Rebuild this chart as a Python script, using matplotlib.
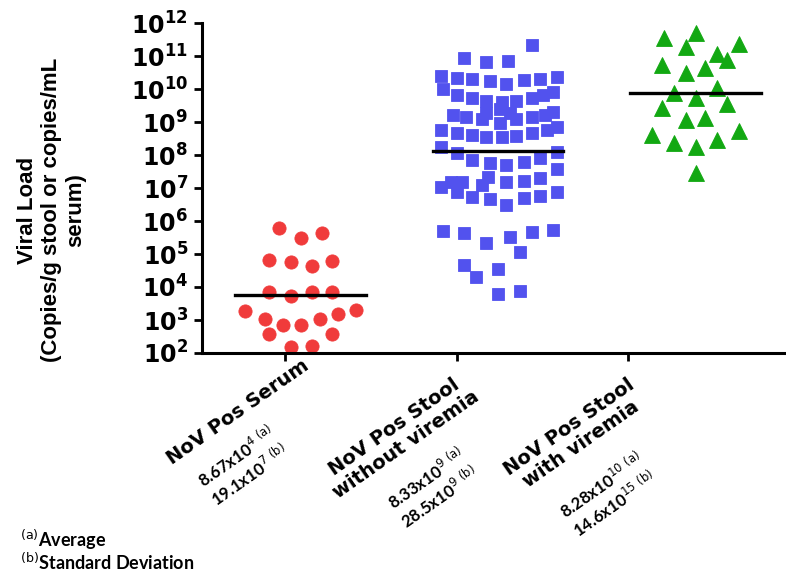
import numpy as np
import matplotlib
matplotlib.use("Agg")
import matplotlib.pyplot as plt
from matplotlib.ticker import LogLocator, NullFormatter

plt.rcParams['mathtext.fontset'] = 'dejavusans'

# ---- data (log10 of viral load) ----
serum_dx = [-0.11, 0.00, 0.11, -0.16, -0.05, 0.06, 0.16, -0.16, -0.05, 0.06, 0.16,
            -0.28, -0.18, -0.09, 0.00, 0.10, 0.19, 0.28, -0.16, 0.16, -0.05, 0.06]
serum_log = [5.79, 5.50, 5.65, 4.83, 4.76, 4.64, 4.80, 3.86, 3.73, 3.84, 3.86,
             3.26, 3.03, 2.85, 2.85, 3.02, 3.18, 3.30, 2.57, 2.57, 2.18, 2.20]

stool_dx = [0.17, -0.17, -0.06, 0.05,
            -0.29, -0.21, -0.13, -0.04, 0.04, 0.13, 0.21, 0.30, -0.28, 0.28,
            -0.21, -0.13, -0.06, 0.02, 0.09, 0.17, 0.23,
            -0.23, -0.16, -0.08, 0.01, 0.09, 0.17, 0.24, 0.01, -0.06, 0.06, 0.28,
            -0.29, -0.21, -0.13, -0.06, 0.02, 0.09, 0.17, 0.25, 0.30,
            -0.29, -0.21, -0.13, -0.04, 0.04, 0.13, 0.21, 0.30, 0.30,
            -0.29, -0.24, -0.18, -0.21, -0.13, -0.08, -0.05, -0.04, 0.04, 0.04,
            0.13, 0.13, 0.21, 0.21, 0.30,
            -0.28, -0.17, -0.06, 0.06, 0.17, 0.28, 0.11, -0.17, -0.11, 0.00, 0.00, 0.11]
stool_log = [11.33, 10.93, 10.81, 10.85,
             10.40, 10.34, 10.30, 10.25, 10.14, 10.27, 10.31, 10.37, 9.99, 9.91,
             9.82, 9.72, 9.65, 9.62, 9.65, 9.72, 9.82,
             9.21, 9.14, 9.08, 8.98, 9.08, 9.14, 9.21, 9.38, 9.26, 9.26, 9.31,
             8.76, 8.68, 8.61, 8.55, 8.54, 8.58, 8.66, 8.76, 8.86,
             8.23, 8.05, 7.85, 7.75, 7.70, 7.80, 7.90, 8.10, 7.57,
             7.04, 7.19, 7.19, 6.89, 6.74, 7.09, 7.34, 6.66, 6.48, 7.17,
             7.22, 6.69, 7.29, 6.76, 6.89,
             5.71, 5.63, 5.32, 5.52, 5.68, 5.73, 5.05, 4.67, 4.29, 4.55, 3.79, 3.89]

viremia_dx = [-0.16, 0.00, -0.05, 0.22, 0.11, 0.16, -0.17, -0.05, 0.05, -0.11, 0.11,
              0.00, -0.17, 0.16, -0.05, 0.05, -0.22, -0.11, 0.00, 0.11, 0.22, 0.00]
viremia_log = [11.54, 11.69, 11.26, 11.36, 11.06, 10.88, 10.73, 10.49, 10.63, 9.89, 10.02,
               9.72, 9.42, 9.55, 9.06, 9.13, 8.60, 8.37, 8.25, 8.45, 8.74, 7.45]

mean_log = [3.76, 8.13, 9.87]

categories = ["NoV Pos Serum", "NoV Pos Stool\nwithout viremia", "NoV Pos Stool\nwith viremia"]
stats = [r"8.67x10$^{4}$ $^{\mathrm{(a)}}$" + "\n" + r"19.1x10$^{7}$ $^{\mathrm{(b)}}$",
         r"8.33x10$^{9}$ $^{\mathrm{(a)}}$" + "\n" + r"28.5x10$^{9}$ $^{\mathrm{(b)}}$",
         r"8.28x10$^{10}$ $^{\mathrm{(a)}}$" + "\n" + r"14.6x10$^{15}$ $^{\mathrm{(b)}}$"]

groups = [(serum_dx, serum_log, 'o', '#f03b3b', 9.5),
          (stool_dx, stool_log, 's', '#5252ee', 9.3),
          (viremia_dx, viremia_log, '^', '#12a812', 11)]

W, H = 786, 575
fig = plt.figure(figsize=(W / 100, H / 100), dpi=100)
ax = fig.add_axes([202 / W, 1 - 353 / H, 1 - 202 / W, 330 / H])

for i, (dx, lg, mk, col, ms) in enumerate(groups):
    x = i + np.array(dx)
    ax.plot(x, 10 ** np.array(lg), linestyle='none', marker=mk, color=col,
            markersize=ms, markeredgewidth=0.6, markeredgecolor=col, zorder=2)
    ax.plot([i - 0.33, i + 0.33], [10 ** mean_log[i]] * 2, color='black', lw=2.4, zorder=3)

ax.set_yscale('log')
ax.set_ylim(1e2, 1e12)
ax.set_xlim(-0.499, 2.458)

ax.set_yticks([10.0 ** k for k in range(2, 13)])
ax.set_yticklabels([r'$\mathbf{10^{%d}}$' % k for k in range(2, 13)], fontsize=17)
ax.yaxis.set_minor_locator(LogLocator(base=10, subs=np.arange(2, 10)))
ax.yaxis.set_minor_formatter(NullFormatter())
ax.tick_params(axis='y', which='major', length=6, width=2, pad=4)
ax.tick_params(axis='y', which='minor', length=3, width=1.2)

ax.set_xticks([-0.08, 0.79, 1.66])
ax.set_xticklabels([])
ax.tick_params(axis='x', length=6, width=2)

for s in ['top', 'right']:
    ax.spines[s].set_visible(False)
for s in ['left', 'bottom']:
    ax.spines[s].set_linewidth(2.2)

fig.text(52 / W, 1 - 210 / H, "Viral Load\n(Copies/g stool or copies/mL\nserum)",
         rotation=90, ha='center', va='center', multialignment='center',
         fontsize=16, fontweight='bold', family='Liberation Sans', linespacing=1.2)

main_xy = [(238, 412), (400, 436), (575, 436)]
stat_xy = [(243, 466), (433, 488), (608, 494)]
for i in range(3):
    fig.text(main_xy[i][0] / W, 1 - main_xy[i][1] / H, categories[i], rotation=35,
             ha='center', va='center', multialignment='center', fontsize=14,
             fontweight='bold', family='DejaVu Sans', linespacing=1.15)
    fig.text(stat_xy[i][0] / W, 1 - stat_xy[i][1] / H, stats[i], rotation=35,
             ha='center', va='center', multialignment='center', fontsize=12,
             fontweight='bold', family='Lato', linespacing=1.1)

fig.text(20 / W, 1 - 540 / H, r"$^{\mathrm{(a)}}$Average", ha='left', va='center',
         fontsize=13, fontweight='bold', family='Lato')
fig.text(20 / W, 1 - 562 / H, r"$^{\mathrm{(b)}}$Standard Deviation", ha='left', va='center',
         fontsize=13, fontweight='bold', family='Lato')

fig.savefig("out.png", dpi=100)
